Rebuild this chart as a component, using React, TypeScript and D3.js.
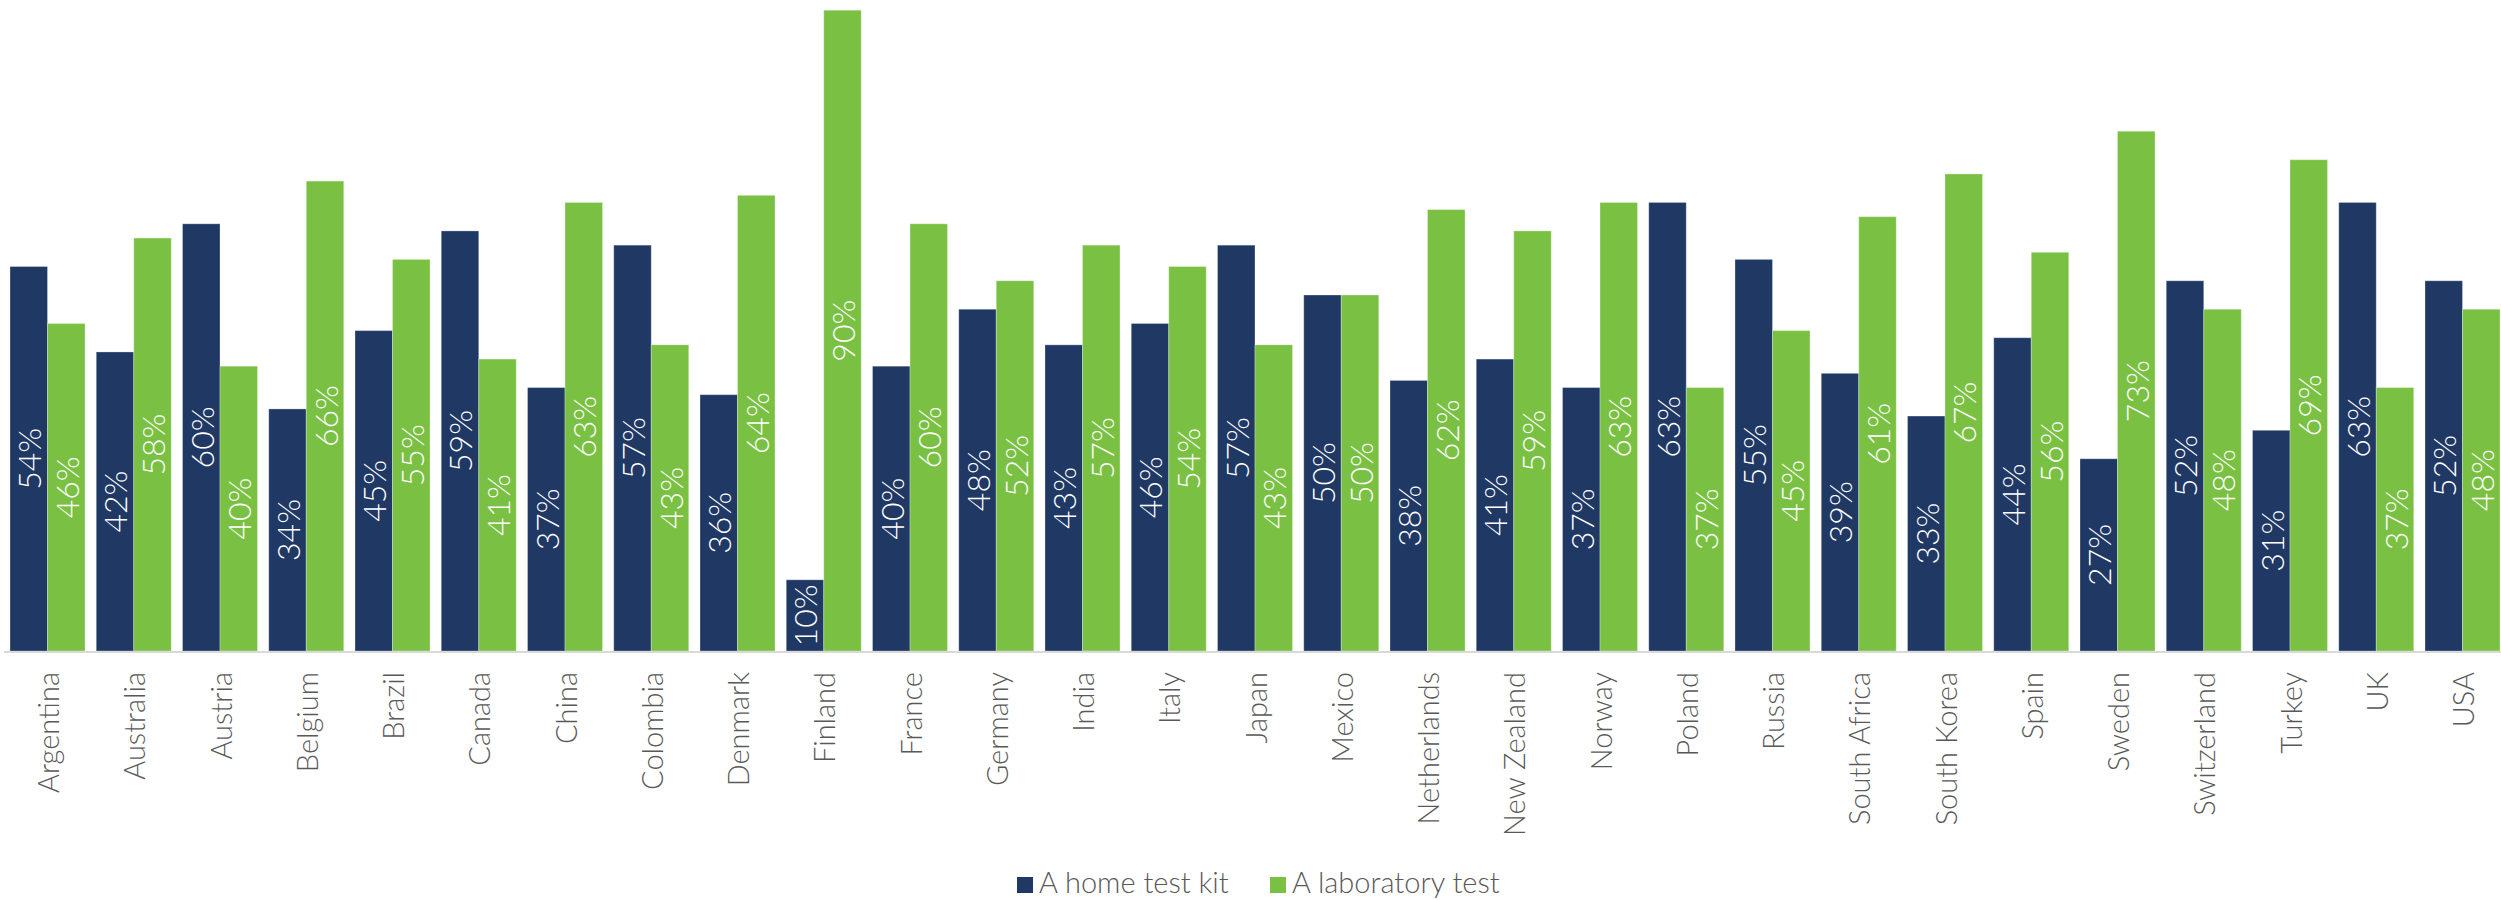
import React from "react";
import * as d3 from "d3";

const countries = ["Argentina","Australia","Austria","Belgium","Brazil","Canada","China","Colombia","Denmark","Finland","France","Germany","India","Italy","Japan","Mexico","Netherlands","New Zealand","Norway","Poland","Russia","South Africa","South Korea","Spain","Sweden","Switzerland","Turkey","UK","USA"];
const homeKit = [54,42,60,34,45,59,37,57,36,10,40,48,43,46,57,50,38,41,37,63,55,39,33,44,27,52,31,63,52];
const labTest = [46,58,40,66,55,41,63,43,64,90,60,52,57,54,43,50,62,59,63,37,45,61,67,56,73,48,69,37,48];
const seriesNames = ["A home test kit", "A laboratory test"];
const seriesColors = ["#1f3864", "#7ac143"];

const W = 2501;
const H = 900;
const baseY = 651;
const FONT = "Lato, 'Open Sans', sans-serif";

export default function App() {
  const x = d3.scaleBand<string>().domain(countries).range([4.375, 2505.625]).paddingInner(0.1304).paddingOuter(0.0652);
  const sub = d3.scaleBand<string>().domain(["home", "lab"]).range([0, x.bandwidth()]).padding(0);
  const y = d3.scaleLinear().domain([0, 100]).range([baseY, baseY - 712]);
  const series = [homeKit, labTest];
  const keys = ["home", "lab"];

  return (
    <svg width={W} height={H} style={{ position: "absolute", left: 0, top: 0, display: "block", background: "#fff" }}>
      {countries.map((c, i) => (
        <g key={c}>
          {series.map((s, k) => {
            const bx = (x(c) as number) + (sub(keys[k]) as number);
            const bw = sub.bandwidth();
            const top = y(s[i]);
            const cx = bx + bw / 2;
            const cy = (top + baseY) / 2;
            return (
              <g key={k}>
                <rect x={bx} y={top} width={bw} height={baseY - top} fill={seriesColors[k]} stroke="#ffffff" strokeOpacity={0.3} strokeWidth={1} />
                <text
                  transform={`translate(${cx},${cy}) rotate(-90)`}
                  textAnchor="middle"
                  dominantBaseline="central"
                  fill="#ffffff"
                  fontFamily={FONT}
                  fontWeight={300}
                  fontSize={32}
                >{`${s[i]}%`}</text>
              </g>
            );
          })}
        </g>
      ))}
      <line x1={4} x2={2501} y1={baseY + 1} y2={baseY + 1} stroke="#d9d9d9" strokeWidth={2} />
      {countries.map((c) => {
        const cx = (x(c) as number) + x.bandwidth() / 2;
        return (
          <text
            key={c}
            transform={`translate(${cx},${baseY + 21}) rotate(-90)`}
            textAnchor="end"
            dominantBaseline="central"
            fill="#595959"
            fontFamily={FONT}
            fontWeight={300}
            fontSize={29}
          >{c}</text>
        );
      })}
      <g>
        <rect x={1017} y={877} width={16} height={16} fill={seriesColors[0]} />
        <text x={1039} y={893} fill="#595959" fontFamily={FONT} fontWeight={300} fontSize={29}>{seriesNames[0]}</text>
        <rect x={1270} y={877} width={16} height={16} fill={seriesColors[1]} />
        <text x={1292} y={893} fill="#595959" fontFamily={FONT} fontWeight={300} fontSize={29}>{seriesNames[1]}</text>
      </g>
    </svg>
  );
}
